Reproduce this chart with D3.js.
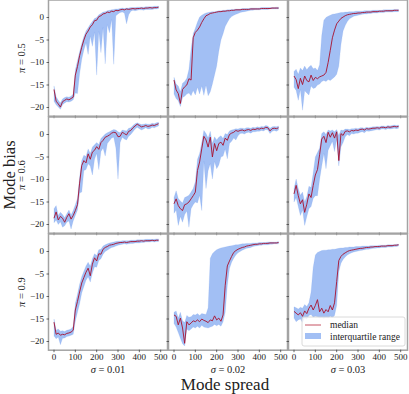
<!DOCTYPE html>
<html>
<head>
<meta charset="utf-8">
<script src="https://cdn.jsdelivr.net/npm/d3@7"></script>
<style>
  body { margin: 0; background: #fff; }
  text { font-family: "Liberation Serif", "DejaVu Serif", serif; fill: #222; }
</style>
</head>
<body>
<div id="chart-area"></div>
<script>

var width = 409,
    height = 394;

// x positions shared by every panel
var steps = [0,10,20,30,40,50,60,70,80,90,100,110,120,130,140,150,160,170,180,190,
             200,210,220,230,240,250,260,270,280,290,300,310,320,330,340,350,360,370,380,390,
             400,410,420,430,440,450,460,470,480,490];

var rowLabels = ["0.5", "0.6", "0.9"];   // pi
var colLabels = ["0.01", "0.02", "0.03"]; // sigma
var xTicks = [0, 100, 200, 300, 400, 500];
var yTicks = [0, -5, -10, -15, -20];

// pi = 0.5, sigma = 0.01
var medA = [-16.0,-18.6,-19.2,-19.9,-18.7,-18.4,-18.1,-18.3,-18.0,-17.7,-12.8,-10.9,-8.5,-6.6,-5.0,-3.7,-3.0,-2.1,-1.6,-0.7,
            -0.6,0.2,0.4,0.8,0.9,1.2,1.1,1.4,1.3,1.6,1.5,1.7,1.8,1.7,1.9,1.8,1.9,2.0,1.9,2.0,
            2.0,2.1,2.0,2.1,2.1,2.2,2.1,2.2,2.2,2.3];
var loA  = [-18.6,-19.4,-19.9,-20.4,-19.4,-19.0,-18.7,-18.8,-18.6,-18.3,-16.8,-16.9,-12.5,-9.3,-7.2,-5.6,-8.2,-4.1,-6.4,-3.2,
            -12.8,-3.1,-7.8,-2.2,-10.3,-1.6,-3.4,-0.4,-10.4,0.4,0.8,1.1,1.2,1.0,-1.4,0.6,1.4,1.6,1.5,1.6,
            1.7,1.7,1.6,1.8,1.8,1.8,1.8,1.9,1.9,2.0];
var hiA  = [-15.2,-17.6,-18.4,-19.0,-18.1,-17.8,-17.6,-17.7,-17.5,-17.0,-11.6,-9.6,-7.6,-5.8,-4.2,-3.0,-2.3,-1.5,-0.9,-0.2,
            0.0,0.6,0.9,1.2,1.3,1.5,1.6,1.7,1.8,1.9,1.9,2.0,2.1,2.0,2.1,2.1,2.2,2.2,2.2,2.3,
            2.3,2.3,2.3,2.4,2.4,2.4,2.4,2.5,2.5,2.5];

// pi = 0.5, sigma = 0.02
var medB = [-13.9,-16.1,-16.9,-19.1,-16.0,-15.4,-15.0,-13.6,-13.9,-4.5,-3.3,-2.8,-2.1,-1.1,-0.3,0.4,0.6,0.9,1.0,1.1,
            1.2,1.3,1.3,1.4,1.4,1.5,1.5,1.6,1.6,1.7,1.7,1.7,1.8,1.8,1.8,1.8,1.9,1.9,1.9,1.9,
            1.9,2.0,2.0,2.0,2.0,2.0,2.1,2.1,2.1,2.1];
var loB  = [-17.0,-18.0,-18.5,-19.8,-17.8,-17.5,-17.0,-16.8,-17.4,-16.2,-17.2,-15.5,-17.0,-15.2,-17.3,-15.0,-17.4,-16.5,-14.8,-12.8,
            -10.8,-7.5,-5.0,-3.6,-2.0,-1.1,-0.3,0.2,0.5,0.7,0.9,1.1,1.2,1.3,1.4,1.5,1.6,1.6,1.7,1.7,
            1.7,1.8,1.8,1.8,1.8,1.9,1.9,1.9,1.9,1.9];
var hiB  = [-13.3,-14.8,-15.2,-16.5,-14.6,-14.2,-13.5,-11.5,-7.0,-3.6,-2.4,-1.0,0.1,0.5,0.8,1.0,1.1,1.2,1.3,1.3,
            1.4,1.5,1.5,1.6,1.6,1.7,1.7,1.8,1.8,1.9,1.9,1.9,2.0,2.0,2.0,2.0,2.1,2.1,2.1,2.1,
            2.1,2.2,2.2,2.2,2.2,2.2,2.2,2.2,2.3,2.3];

// pi = 0.5, sigma = 0.03
var medC = [-13.0,-13.8,-15.8,-13.5,-14.9,-13.0,-14.0,-14.3,-12.8,-14.0,-13.3,-13.6,-13.2,-13.0,-12.8,-12.2,-10.0,-7.3,-4.5,-2.8,
            -1.4,-0.8,-0.2,0.1,0.4,0.6,0.7,0.8,0.9,0.9,1.0,1.0,1.1,1.1,1.2,1.2,1.2,1.3,1.3,1.3,
            1.4,1.4,1.4,1.5,1.5,1.5,1.5,1.6,1.6,1.6];
var loC  = [-15.5,-16.2,-18.4,-16.0,-20.6,-16.3,-16.8,-17.2,-15.2,-15.8,-15.6,-15.0,-14.8,-14.2,-14.0,-14.2,-13.8,-14.0,-13.6,-13.2,
            -12.6,-10.8,-6.0,-3.0,-1.8,-0.9,-0.3,0.0,0.3,0.4,0.5,0.6,0.7,0.8,0.8,0.9,0.9,1.0,1.0,1.0,
            1.1,1.1,1.1,1.2,1.2,1.2,1.2,1.3,1.3,1.3];
var hiC  = [-12.0,-11.5,-12.6,-11.2,-11.8,-10.8,-11.6,-11.0,-10.6,-11.4,-11.2,-11.8,-10.5,-4.0,-0.6,0.0,0.3,0.5,0.7,0.8,
            0.9,1.0,1.1,1.1,1.2,1.2,1.3,1.3,1.3,1.4,1.4,1.4,1.4,1.5,1.5,1.5,1.5,1.6,1.6,1.6,
            1.6,1.6,1.7,1.7,1.7,1.7,1.7,1.8,1.8,1.8];

// pi = 0.6, sigma = 0.01
var medD = [-18.6,-17.2,-19.0,-18.2,-18.6,-19.5,-18.4,-17.6,-18.8,-18.0,-16.9,-15.6,-10.8,-6.9,-5.8,-6.3,-4.3,-5.5,-3.9,-3.5,
            -2.7,-3.3,-1.8,-1.3,-0.6,-0.4,-0.1,0.3,0.5,0.4,-0.5,-0.4,0.5,0.2,-0.1,0.7,0.9,1.5,1.9,2.3,
            2.0,1.7,1.8,2.0,1.8,1.9,2.1,2.0,2.2,2.4];
var loD  = [-19.6,-19.0,-20.0,-19.4,-20.6,-20.3,-19.5,-19.2,-21.0,-19.2,-18.0,-16.8,-13.0,-12.8,-8.0,-7.8,-6.5,-7.0,-9.0,-5.5,
            -4.2,-7.8,-3.8,-3.0,-4.8,-2.0,-1.4,-0.8,-0.6,-3.0,-9.9,-1.8,-0.6,-1.0,-1.2,-0.4,0.0,0.6,1.2,1.6,
            1.3,1.0,1.2,1.5,1.2,1.3,1.6,1.5,1.7,1.9];
var hiD  = [-16.5,-15.8,-18.0,-17.3,-17.8,-18.5,-17.6,-16.8,-17.9,-16.9,-15.6,-14.2,-9.5,-5.8,-4.6,-4.9,-3.2,-4.2,-2.8,-2.3,
            -1.8,-2.2,-0.9,-0.4,0.1,0.4,0.6,0.9,1.1,1.0,0.6,0.4,1.0,0.9,0.8,1.4,1.5,2.0,2.4,2.6,
            2.4,2.2,2.3,2.4,2.3,2.3,2.5,2.4,2.6,2.7];

// pi = 0.6, sigma = 0.02
var medE = [-15.4,-14.3,-15.8,-16.5,-16.9,-15.6,-15.4,-15.0,-14.3,-13.6,-12.8,-8.0,-6.1,-3.2,-0.4,-1.2,-2.8,-0.6,-5.0,-2.0,
            -3.6,-2.0,-1.7,-2.4,-0.8,-1.3,0.0,0.3,0.5,0.9,0.7,0.9,1.0,0.8,1.0,1.1,0.9,1.2,1.1,1.3,
            1.2,1.4,1.3,1.6,1.5,0.8,1.3,1.4,1.3,1.5];
var loE  = [-17.5,-16.8,-20.2,-18.2,-19.5,-17.8,-17.0,-20.6,-16.5,-15.6,-15.0,-15.2,-13.5,-16.9,-6.0,-12.0,-8.0,-6.5,-9.9,-6.0,
            -7.6,-6.8,-5.0,-4.8,-3.2,-5.4,-2.0,-1.5,-0.8,-1.2,-0.3,0.2,0.3,0.1,0.4,0.5,0.3,0.6,0.6,0.7,
            0.7,0.9,0.8,1.1,1.0,0.2,0.7,0.9,0.7,1.0];
var hiE  = [-14.0,-12.5,-14.2,-14.8,-15.2,-14.0,-13.8,-13.5,-12.8,-12.0,-10.5,-5.5,-4.2,-1.8,0.9,0.2,-0.8,0.7,-2.0,-0.5,
            -1.2,-0.6,-0.3,-0.9,0.2,0.0,0.8,1.0,1.1,1.3,1.2,1.4,1.4,1.3,1.5,1.5,1.4,1.6,1.5,1.7,
            1.6,1.8,1.7,2.0,1.9,1.4,1.7,1.8,1.7,1.9];

// pi = 0.6, sigma = 0.03
var medF = [-13.2,-11.3,-13.6,-15.4,-14.5,-17.3,-15.5,-13.2,-14.0,-11.3,-9.0,-7.8,-4.5,-1.0,-0.4,-1.8,0.5,-0.6,0.4,-0.8,
            0.6,-5.8,0.2,-0.2,0.7,0.8,0.6,0.9,0.8,1.0,0.9,1.1,1.2,1.0,1.3,1.2,1.3,1.4,1.4,1.5,
            1.4,1.6,1.6,1.5,1.7,1.6,1.7,1.8,1.7,1.8];
var loF  = [-15.0,-14.0,-16.0,-18.0,-16.8,-20.2,-18.2,-16.5,-16.0,-14.2,-13.6,-13.6,-10.0,-7.0,-4.2,-7.6,-3.5,-2.5,-1.5,-3.8,
            -1.0,-7.0,-2.8,-1.8,-0.5,0.0,-0.3,0.2,0.1,0.3,0.3,0.5,0.6,0.4,0.8,0.7,0.8,0.9,1.0,1.1,
            1.0,1.2,1.2,1.1,1.3,1.2,1.3,1.4,1.3,1.4];
var hiF  = [-12.0,-9.9,-12.0,-13.5,-12.8,-15.0,-13.8,-11.5,-11.8,-8.5,-5.0,-4.0,-3.0,0.2,0.6,0.0,1.0,0.8,1.0,0.6,
            1.1,-0.2,1.0,0.9,1.2,1.2,1.1,1.3,1.3,1.4,1.3,1.5,1.5,1.4,1.6,1.5,1.6,1.7,1.7,1.8,
            1.7,1.9,1.9,1.8,2.0,1.9,2.0,2.1,2.0,2.1];

// pi = 0.9, sigma = 0.01
var medG = [-15.7,-18.4,-18.1,-18.6,-18.4,-18.5,-18.2,-18.1,-17.9,-17.5,-13.0,-11.1,-9.0,-7.0,-5.8,-4.6,-3.7,-5.4,-2.8,-1.4,
            -2.1,-0.5,-0.6,0.5,0.9,1.1,1.4,1.5,1.6,1.8,1.9,2.0,2.0,2.1,2.0,2.1,2.2,2.2,2.2,2.3,
            2.3,2.4,2.3,2.4,2.4,2.4,2.5,2.4,2.5,2.5];
var loG  = [-18.8,-19.4,-19.0,-20.7,-19.3,-19.2,-18.9,-18.8,-18.6,-18.4,-15.5,-13.5,-11.6,-9.2,-7.8,-6.4,-5.6,-6.8,-4.8,-3.4,
            -3.5,-2.0,-1.6,-0.6,0.0,0.3,0.6,0.9,1.0,1.2,1.4,1.5,1.6,1.7,1.6,1.7,1.8,1.8,1.9,1.9,
            1.9,2.0,2.0,2.1,2.1,2.1,2.2,2.1,2.2,2.2];
var hiG  = [-15.0,-17.5,-17.2,-17.7,-17.6,-17.8,-17.5,-17.4,-17.2,-16.6,-11.5,-9.5,-7.3,-5.6,-4.4,-3.2,-2.4,-3.3,-1.6,-0.5,
            -0.9,0.4,0.5,1.2,1.5,1.7,1.9,2.0,2.1,2.2,2.3,2.3,2.4,2.4,2.4,2.4,2.5,2.5,2.5,2.6,
            2.6,2.6,2.6,2.7,2.7,2.7,2.7,2.7,2.8,2.8];

// pi = 0.9, sigma = 0.02
var medH = [-14.1,-14.4,-16.3,-14.8,-17.0,-20.4,-15.6,-16.3,-15.9,-15.4,-15.6,-15.2,-15.6,-15.0,-15.3,-15.5,-15.8,-15.2,-15.4,-14.3,
            -15.2,-14.8,-15.5,-14.1,-7.5,-3.2,-2.1,-1.1,-0.2,0.2,0.5,0.7,0.9,1.0,1.2,1.3,1.4,1.5,1.6,1.6,
            1.7,1.7,1.8,1.8,1.8,1.9,1.9,1.9,1.9,2.0];
var loH  = [-16.0,-16.8,-18.0,-19.3,-20.5,-21.0,-17.2,-17.6,-17.2,-16.8,-17.0,-16.6,-17.0,-16.4,-16.8,-16.9,-17.0,-16.8,-16.6,-16.2,
            -16.5,-16.2,-16.6,-15.6,-13.5,-7.5,-3.8,-2.4,-1.5,-0.8,-0.3,0.0,0.3,0.5,0.7,0.8,0.9,1.1,1.2,1.3,
            1.4,1.4,1.5,1.5,1.5,1.6,1.6,1.7,1.7,1.7];
var hiH  = [-13.5,-13.2,-14.8,-13.5,-15.4,-15.8,-14.2,-14.6,-14.5,-14.0,-14.1,-13.8,-14.2,-13.8,-13.9,-14.0,-12.5,-1.5,-0.5,0.0,
            0.4,0.6,0.8,0.9,1.0,1.1,1.2,1.3,1.4,1.5,1.5,1.6,1.7,1.7,1.8,1.8,1.8,1.9,1.9,1.9,
            2.0,2.0,2.0,2.0,2.1,2.1,2.1,2.1,2.1,2.2];

// pi = 0.9, sigma = 0.03
var medI = [-13.3,-13.7,-14.1,-13.6,-14.4,-13.2,-13.8,-12.6,-11.9,-13.0,-12.0,-10.7,-13.4,-12.6,-13.7,-12.9,-13.4,-12.0,-13.0,-11.4,
            -6.7,-2.0,-1.1,-0.6,-0.3,0.0,0.2,0.3,0.4,0.5,0.6,0.7,0.7,0.8,0.9,0.9,1.0,1.0,1.1,1.1,
            1.1,1.2,1.2,1.2,1.3,1.3,1.3,1.4,1.4,1.5];
var loI  = [-14.8,-15.6,-15.2,-15.0,-15.8,-14.8,-15.0,-14.2,-14.0,-14.6,-14.4,-14.5,-14.8,-14.6,-14.9,-14.6,-14.8,-14.4,-14.7,-14.2,
            -12.0,-4.5,-2.6,-1.8,-1.2,-0.8,-0.5,-0.3,-0.1,0.0,0.1,0.2,0.3,0.4,0.5,0.5,0.6,0.7,0.7,0.8,
            0.8,0.9,0.9,0.9,1.0,1.0,1.0,1.1,1.1,1.2];
var hiI  = [-12.3,-12.5,-12.8,-12.4,-12.6,-11.8,-12.2,-11.4,-9.0,-3.5,-0.8,-0.2,0.0,0.2,0.3,0.3,0.4,0.4,0.5,0.5,
            0.6,0.7,0.8,0.8,0.9,0.9,1.0,1.0,1.0,1.1,1.1,1.1,1.2,1.2,1.2,1.2,1.3,1.3,1.3,1.3,
            1.4,1.4,1.4,1.4,1.5,1.5,1.5,1.5,1.6,1.6];

var panels = [
  [medA, loA, hiA], [medB, loB, hiB], [medC, loC, hiC],
  [medD, loD, hiD], [medE, loE, hiE], [medF, loF, hiF],
  [medG, loG, hiG], [medH, loH, hiH], [medI, loI, hiI]
];

var left0 = 48.5, top0 = 0,
    pw = 119, ph = 116.2,
    colStep = 120, rowStep = 117;

var svg = d3.select("#chart-area").append("svg")
    .attr("width", width)
    .attr("height", height);

var x = d3.scaleLinear().domain([-25.8, 532]).range([0, pw]);
var y = d3.scaleLinear().domain([-21.93, 3.89]).range([ph, 0]);

var band = d3.area()
    .x((d, i) => x(steps[i]))
    .y0(d => y(d[0]))
    .y1(d => y(d[1]));

var line = d3.line()
    .x((d, i) => x(steps[i]))
    .y(d => y(d));

panels.forEach(function(p, k) {
  var r = Math.floor(k / 3), c = k % 3;
  var g = svg.append("g")
      .attr("transform", "translate(" + (left0 + c * colStep) + "," + (top0 + r * rowStep) + ")");

  g.append("clipPath").attr("id", "clip" + k)
    .append("rect").attr("width", pw).attr("height", ph);

  var inner = g.append("g").attr("clip-path", "url(#clip" + k + ")");

  // interquartile range
  inner.append("path")
      .datum(p[1].map((v, i) => [v, p[2][i]]))
      .attr("d", band)
      .attr("fill", "cornflowerblue")
      .attr("fill-opacity", 0.6)
      .attr("stroke", "cornflowerblue")
      .attr("stroke-opacity", 0.3)
      .attr("stroke-width", 0.5);

  // median
  inner.append("path")
      .datum(p[0])
      .attr("d", line)
      .attr("fill", "none")
      .attr("stroke", "#a8102c")
      .attr("stroke-width", 0.9);

  // frame
  g.append("rect")
      .attr("width", pw).attr("height", ph)
      .attr("fill", "none")
      .attr("stroke", "#a3a3a3")
      .attr("stroke-width", 1.5);

  // ticks
  g.selectAll(".xt").data(xTicks).enter().append("line")
      .attr("x1", d => x(d)).attr("x2", d => x(d))
      .attr("y1", ph - 0.5).attr("y2", ph + 2)
      .attr("stroke", "#444").attr("stroke-width", 0.8);
  g.selectAll(".yt").data(yTicks).enter().append("line")
      .attr("x1", -2).attr("x2", 0.5)
      .attr("y1", d => y(d)).attr("y2", d => y(d))
      .attr("stroke", "#444").attr("stroke-width", 0.8);

  if (c === 0) {
    g.selectAll(".yl").data(yTicks).enter().append("text")
        .attr("x", -4.5)
        .attr("y", d => y(d))
        .attr("dy", "0.33em")
        .attr("text-anchor", "end")
        .style("font-size", "9px")
        .text(d => d3.format("")(d).replace("-", "\u2212"));

    var pl = g.append("text")
        .attr("transform", "translate(-24," + (ph / 2) + ") rotate(-90)")
        .attr("text-anchor", "middle")
        .style("font-size", "10.5px");
    pl.append("tspan").style("font-style", "italic").text("\u03c0");
    pl.append("tspan").text(" = " + rowLabels[r]);
  }

  if (r === 2) {
    g.selectAll(".xl").data(xTicks).enter().append("text")
        .attr("x", d => x(d))
        .attr("y", ph + 9.5)
        .attr("text-anchor", "middle")
        .style("font-size", "9px")
        .text(d => d);

    var sl = g.append("text")
        .attr("x", pw / 2)
        .attr("y", ph + 23)
        .attr("text-anchor", "middle")
        .style("font-size", "10.5px");
    sl.append("tspan").style("font-style", "italic").text("\u03c3");
    sl.append("tspan").text(" = " + colLabels[c]);
  }

  // legend in the last panel
  if (k === 8) {
    var lg = g.append("g").attr("transform", "translate(" + (302 - left0 - 2 * colStep) + "," + (317 - 2 * rowStep) + ")");
    lg.append("rect")
        .attr("width", 103).attr("height", 29).attr("rx", 2)
        .attr("fill", "#fff").attr("fill-opacity", 0.8)
        .attr("stroke", "#d0d0d0").attr("stroke-width", 0.8);
    lg.append("line")
        .attr("x1", 3).attr("x2", 19).attr("y1", 8).attr("y2", 8)
        .attr("stroke", "#c04050").attr("stroke-width", 0.9);
    lg.append("rect")
        .attr("x", 3).attr("y", 16).attr("width", 16).attr("height", 6)
        .attr("fill", "cornflowerblue").attr("fill-opacity", 0.6);
    lg.append("text").attr("x", 28).attr("y", 11).style("font-size", "9.5px").text("median");
    lg.append("text").attr("x", 28).attr("y", 22.5).style("font-size", "9.5px").text("interquartile range");
  }
});

svg.append("text")
    .attr("x", 225)
    .attr("y", 390)
    .attr("text-anchor", "middle")
    .style("font-size", "17px")
    .text("Mode spread");

svg.append("text")
    .attr("transform", "translate(14.5,175) rotate(-90)")
    .attr("text-anchor", "middle")
    .style("font-size", "16.5px")
    .text("Mode bias");

</script>
</body>
</html>
